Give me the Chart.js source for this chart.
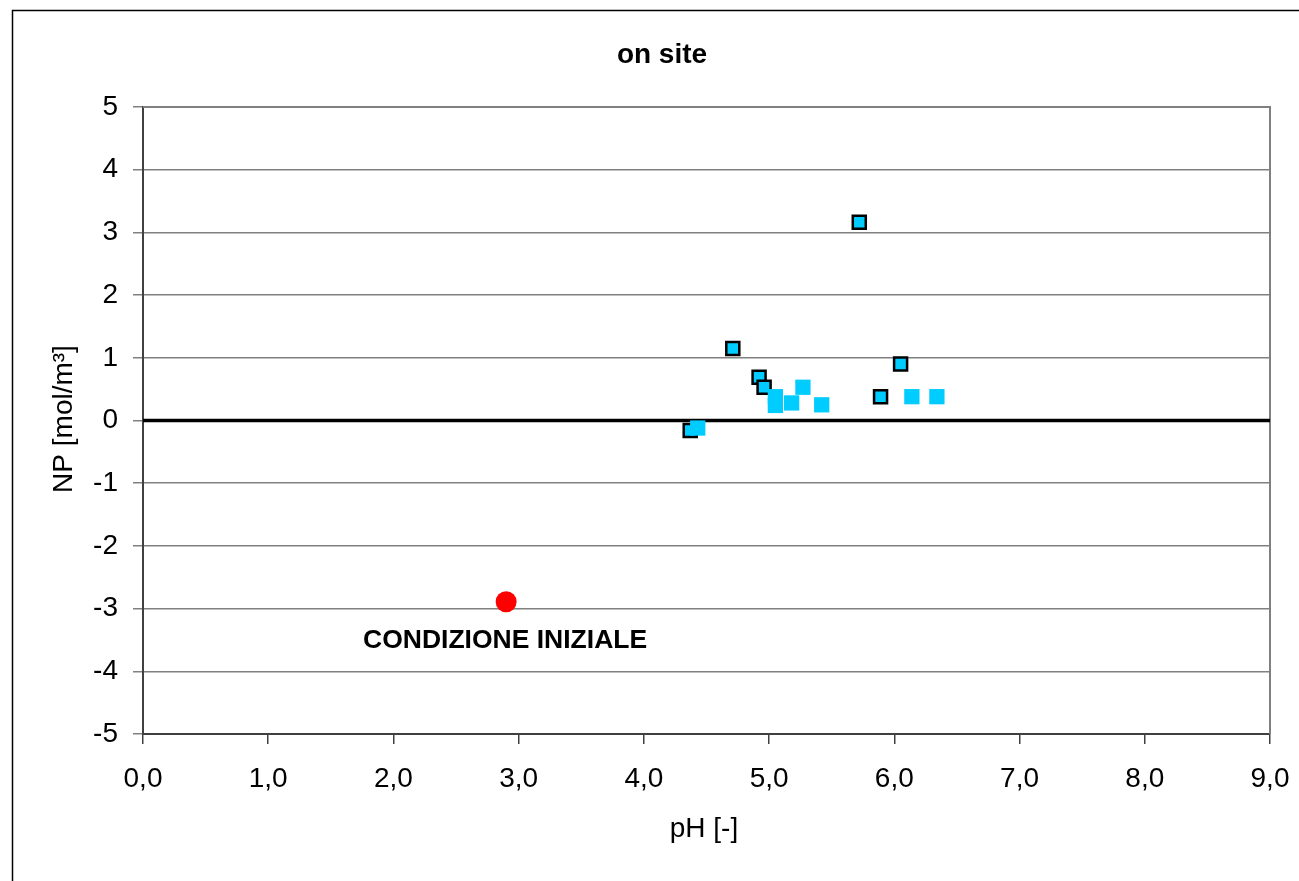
<!DOCTYPE html>
<html>
<head>
<meta charset="utf-8">
<script src="https://cdn.jsdelivr.net/npm/chart.js@4/dist/chart.umd.min.js"></script>
<style>
  html, body { margin: 0; padding: 0; background: #fff; }
  #wrap { width: 1299px; height: 881px; position: relative; }
</style>
</head>
<body>
<div id="wrap"><canvas id="c" width="1299" height="881"></canvas></div>
<script>
// ---- data ----
const chartTitle = "on site";
const xAxisTitle = "pH [-]";
const yAxisTitle = "NP [mol/m³]";
const annotationText = "CONDIZIONE INIZIALE";

const seriesA_pH = [4.37, 4.71, 4.92, 4.96, 5.72, 5.89, 6.05];
const seriesA_NP = [-0.16, 1.15, 0.69, 0.53, 3.16, 0.38, 0.90];

const seriesB_pH = [4.43, 5.05, 5.05, 5.18, 5.27, 5.42, 6.14, 6.34];
const seriesB_NP = [-0.12, 0.38, 0.24, 0.28, 0.53, 0.25, 0.38, 0.38];

const initial_pH = [2.9];
const initial_NP = [-2.89];

const xMin = 0, xMax = 9, xStep = 1;
const yMin = -5, yMax = 5, yStep = 1;

const FONT = '"Liberation Sans", Arial, sans-serif';

function pts(xs, ys) { return xs.map((x, i) => ({ x: x, y: ys[i] })); }

const decor = {
  id: 'decor',
  beforeDraw(chart) {
    const ctx = chart.ctx;
    ctx.save();
    ctx.fillStyle = '#fff';
    ctx.fillRect(0, 0, chart.width, chart.height);
    ctx.strokeStyle = '#000';
    ctx.lineWidth = 1.5;
    ctx.strokeRect(12.5, 10.5, 1400, 1000);
    ctx.restore();
  },
  beforeDatasetsDraw(chart) {
    const ctx = chart.ctx;
    const a = chart.chartArea;
    const ys = chart.scales.y;
    ctx.save();
    ctx.strokeStyle = '#808080';
    ctx.lineWidth = 2;
    ctx.beginPath();
    ctx.moveTo(a.left, a.top);
    ctx.lineTo(a.right, a.top);
    ctx.lineTo(a.right, a.bottom);
    ctx.stroke();
    const y0 = ys.getPixelForValue(0);
    ctx.strokeStyle = '#000';
    ctx.lineWidth = 3.5;
    ctx.beginPath();
    ctx.moveTo(a.left, y0);
    ctx.lineTo(a.right, y0);
    ctx.stroke();
    ctx.restore();
  },
  afterDraw(chart) {
    const ctx = chart.ctx;
    ctx.save();
    ctx.fillStyle = '#000';
    ctx.font = 'bold 28px ' + FONT;
    ctx.textAlign = 'center';
    ctx.textBaseline = 'alphabetic';
    ctx.fillText(chartTitle, 662, 63);
    ctx.font = '28px ' + FONT;
    ctx.fillText(xAxisTitle, 704, 837);
    ctx.save();
    ctx.translate(72, 419);
    ctx.rotate(-Math.PI / 2);
    ctx.fillText(yAxisTitle, 0, 0);
    ctx.restore();
    ctx.font = 'bold 26.5px ' + FONT;
    ctx.textAlign = 'left';
    ctx.fillText(annotationText, 363, 648);
    ctx.restore();
  }
};

new Chart(document.getElementById('c'), {
  type: 'scatter',
  data: {
    datasets: [
      {
        label: 'B',
        data: pts(seriesB_pH, seriesB_NP),
        pointStyle: 'rect',
        pointRadius: 10.8,
        pointHoverRadius: 10.8,
        backgroundColor: '#00CCFF',
        borderColor: '#00CCFF',
        borderWidth: 0
      },
      {
        label: 'A',
        data: pts(seriesA_pH, seriesA_NP),
        pointStyle: 'rect',
        pointRadius: 9.2,
        pointHoverRadius: 9.2,
        backgroundColor: '#00CCFF',
        borderColor: '#000000',
        borderWidth: 2.5
      },
      {
        label: 'init',
        data: pts(initial_pH, initial_NP),
        pointStyle: 'circle',
        pointRadius: 10.5,
        pointHoverRadius: 10.5,
        backgroundColor: '#FF0000',
        borderColor: '#FF0000',
        borderWidth: 0
      }
    ]
  },
  options: {
    responsive: false,
    animation: false,
    events: [],
    layout: { padding: { left: 0, top: 107, right: 29, bottom: 0 } },
    plugins: {
      legend: { display: false },
      title: { display: false },
      tooltip: { enabled: false }
    },
    scales: {
      x: {
        type: 'linear',
        min: xMin, max: xMax,
        afterFit(axis) { axis.height = 147; axis.paddingLeft = 0; axis.paddingRight = 0; },
        afterBuildTicks(axis) {
          const t = [];
          for (let v = xMin; v <= xMax + 1e-9; v += xStep) t.push({ value: v });
          axis.ticks = t;
        },
        ticks: {
          autoSkip: false,
          maxRotation: 0,
          padding: 18,
          color: '#000',
          font: { family: FONT, size: 28 },
          callback: v => Number(v).toFixed(1).replace('.', ',')
        },
        grid: {
          drawOnChartArea: false,
          drawTicks: true,
          tickLength: 10,
          color: '#404040',
          lineWidth: 1.5
        },
        border: { display: true, color: '#404040', width: 2 }
      },
      y: {
        type: 'linear',
        min: yMin, max: yMax,
        afterFit(axis) { axis.width = 143; axis.paddingTop = 0; axis.paddingBottom = 0; },
        afterBuildTicks(axis) {
          const t = [];
          for (let v = yMin; v <= yMax + 1e-9; v += yStep) t.push({ value: v });
          axis.ticks = t;
        },
        ticks: {
          autoSkip: false,
          padding: 15,
          color: '#000',
          font: { family: FONT, size: 28 },
          callback: v => String(v)
        },
        grid: {
          drawOnChartArea: true,
          drawTicks: true,
          tickLength: 10,
          color: '#808080',
          lineWidth: 1.5
        },
        border: { display: true, color: '#404040', width: 2 }
      }
    }
  },
  plugins: [decor]
});
</script>
</body>
</html>
